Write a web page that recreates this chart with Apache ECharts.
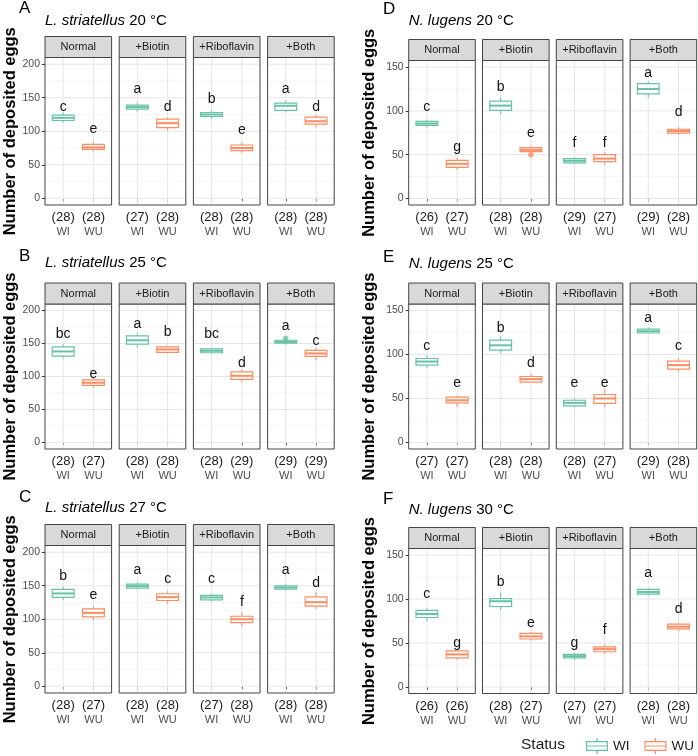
<!DOCTYPE html>
<html><head><meta charset="utf-8">
<script src="https://cdn.jsdelivr.net/npm/echarts@6/dist/echarts.min.js"></script>
<style>html,body{margin:0;padding:0;background:#fff}#c{width:698px;height:756px}</style>
</head><body><div id="c"></div>
<script>
// ---------- data ----------
const facets = ['Normal', '+Biotin', '+Riboflavin', '+Both'];
const statuses = ['WI', 'WU'];
const panelLetters = ['A', 'B', 'C', 'D', 'E', 'F'];
const panelSpecies = ['L. striatellus', 'L. striatellus', 'L. striatellus', 'N. lugens', 'N. lugens', 'N. lugens'];
const panelTemps = ['20 \u00B0C', '25 \u00B0C', '27 \u00B0C', '20 \u00B0C', '25 \u00B0C', '30 \u00B0C'];
const leftTicks = [0, 50, 100, 150, 200];
const leftMinor = [25, 75, 125, 175];
const rightTicks = [0, 50, 100, 150];
const rightMinor = [25, 75, 125];

// boxes: [min, Q1, median, Q3, max] per facet
const A_WI = [[113,116,120,124,128],[130,133,136,139,142],[119,122,125,128,131],[128,131,138,142,146]];
const A_WU = [[70,73,76,80.5,84],[101,105.5,112,118,121],[68,71,75,79.5,83],[105.5,110.5,115,121,124.5]];
const A_n = [[28,28],[27,28],[28,28],[28,28]];
const A_letters = [['c','e'],['a','d'],['b','e'],['a','d']];
const A_letterY = [[136,103.5],[163,136],[148,102],[163,136]];

const B_WI = [[127.5,131,138,145,149],[144,149,155,161.5,165.5],[134,136,139,142,143.5],[148,150.5,152.5,155,155.5]];
const B_WU = [[83.5,86.5,90.5,95,98],[135,136.5,141,145,147],[91.5,95.5,101,107,110.5],[125,130.5,135,139.5,144]];
const B_n = [[28,27],[28,28],[28,29],[29,29]];
const B_letters = [['bc','e'],['a','b'],['bc','d'],['a','c']];
const B_letterY = [[164,104],[180,168],[164,120],[177,153.5]];

const C_WI = [[128.5,132.5,138.5,144.5,148.5],[144.5,146.5,149.5,152.5,154.5],[126.5,129,132.5,135.5,137.5],[143.5,145,147.5,150,152.5]];
const C_WU = [[99,103.5,109.5,115.5,119.5],[122.5,128,133,138,142],[90,95,100,104.5,110.5],[115.5,119.5,125.5,133.5,141]];
const C_n = [[28,27],[28,28],[27,28],[28,28]];
const C_letters = [['b','e'],['a','c'],['c','f'],['a','d']];
const C_letterY = [[164.5,136],[173,159.5],[160,126],[173,153.5]];

const D_WI = [[81,83.5,85.5,88,90],[96,100.5,106,111,115.5],[39.5,40.5,43,45.5,47],[115,119.5,125,131,133.5]];
const D_WU = [[32.5,35.5,39.5,43.5,46.5],[52,53.5,55.5,58,60],[38.5,42,45.5,50,53],[72.5,74.5,77,79,81.5]];
const D_n = [[26,27],[28,28],[29,27],[29,28]];
const D_letters = [['c','g'],['b','e'],['f','f'],['a','d']];
const D_letterY = [[104.5,58],[127,74],[63,63],[142.5,98]];

const E_WI = [[85,88,92,95.5,99],[101.5,105,110.5,116.5,121],[40,41.5,45,48,50],[124,124.5,126.5,129,130.5]];
const E_WU = [[40.5,45,48,51.5,53],[67.5,68.5,72,75,78],[40,44.5,50,54.5,60.5],[80.5,83.5,88,92.5,95.5]];
const E_n = [[27,27],[28,28],[28,27],[29,28]];
const E_letters = [['c','e'],['b','d'],['e','e'],['a','c']];
const E_letterY = [[109,67],[129.5,90],[67,67],[141.5,109]];

const F_WI = [[75,79,83,87,89.5],[87.5,91.5,97.5,100.5,107.5],[30.5,33,35,37,38.5],[104,105.5,108,111,112.5]];
const F_WU = [[31,33,37,41,43.5],[52.5,54.5,57.5,61,62.5],[37.5,40,43,45.5,48.5],[63.5,66,68.5,71.5,73]];
const F_n = [[26,26],[28,27],[27,27],[28,28]];
const F_letters = [['c','g'],['b','e'],['g','f'],['a','d']];
const F_letterY = [[105,49.5],[119,72],[49.5,64.5],[129,88]];

// outliers: [panel, facet index, status, value]
const outliers = [['B', 3, 'WI', 157.5], ['D', 1, 'WU', 50]];

// ---------- assembly ----------
const boxesWI = [A_WI, B_WI, C_WI, D_WI, E_WI, F_WI];
const boxesWU = [A_WU, B_WU, C_WU, D_WU, E_WU, F_WU];
const nAll = [A_n, B_n, C_n, D_n, E_n, F_n];
const lettersAll = [A_letters, B_letters, C_letters, D_letters, E_letters, F_letters];
const letterYAll = [A_letterY, B_letterY, C_letterY, D_letterY, E_letterY, F_letterY];

const FONT = 'Liberation Sans, Arial, Helvetica, sans-serif';
const colors = { WI: '#66c2a5', WU: '#fc8d62' };
const colLeft = [45, 408.7], colStep = [74.2, 73.8], facetW = 66.6, stripH = 21;
const plotTop = [57.5, 304, 545.5, 60.5, 304, 548.5];
const plotBot = [205, 449, 693, 205, 449, 693.5];
const letterTop = [0, 248, 489, 1, 249, 491];
const titleTop = [13, 255, 500, 13, 256, 502];
const letterLeft = [19, 383];
const yRange = [[-10, 210], [-7.5, 157.5]];
const nameGap = [26, 31];

const grids = [], xAxes = [], yAxes = [], series = [], titles = [];

function bgRender(f, ticks, minors) {
  return function (params, api) {
    const cs = params.coordSys;
    const ch = [];
    minors.forEach(v => {
      const y = api.coord([1, v])[1];
      ch.push({ type: 'line', shape: { x1: cs.x, y1: y, x2: cs.x + cs.width, y2: y }, style: { stroke: '#ececec', lineWidth: 0.5 } });
    });
    ticks.forEach(v => {
      const y = api.coord([1, v])[1];
      ch.push({ type: 'line', shape: { x1: cs.x, y1: y, x2: cs.x + cs.width, y2: y }, style: { stroke: '#e6e6e6', lineWidth: 1 } });
    });
    [1, 2].forEach(v => {
      const x = api.coord([v, 0])[0];
      ch.push({ type: 'line', shape: { x1: x, y1: cs.y, x2: x, y2: cs.y + cs.height }, style: { stroke: '#e6e6e6', lineWidth: 1 } });
    });
    ch.push({ type: 'rect', shape: { x: cs.x, y: cs.y, width: cs.width, height: cs.height }, style: { fill: 'none', stroke: '#444', lineWidth: 1 } });
    ch.push({ type: 'rect', shape: { x: cs.x, y: cs.y - stripH, width: cs.width, height: stripH }, style: { fill: '#d9d9d9', stroke: '#444', lineWidth: 1 } });
    ch.push({ type: 'text', x: cs.x + cs.width / 2, y: cs.y - stripH / 2, style: { text: facets[f], fill: '#1a1a1a', fontSize: 11, fontFamily: FONT, align: 'center', verticalAlign: 'middle' } });
    return { type: 'group', children: ch };
  };
}

function boxRender(letter, color) {
  return function (params, api) {
    const x = api.value(0), hw = 0.36;
    const tl = api.coord([x - hw, api.value(4)]);
    const br = api.coord([x + hw, api.value(2)]);
    const cx = api.coord([x, 0])[0];
    const yMin = api.coord([x, api.value(1)])[1];
    const yMax = api.coord([x, api.value(5)])[1];
    const yMed = api.coord([x, api.value(3)])[1];
    const lab = api.coord([x, api.value(6)]);
    return { type: 'group', children: [
      { type: 'line', shape: { x1: cx, y1: yMax, x2: cx, y2: tl[1] }, style: { stroke: color, lineWidth: 1 } },
      { type: 'line', shape: { x1: cx, y1: br[1], x2: cx, y2: yMin }, style: { stroke: color, lineWidth: 1 } },
      { type: 'rect', shape: { x: tl[0], y: tl[1], width: br[0] - tl[0], height: br[1] - tl[1] }, style: { fill: '#ffffff', stroke: color, lineWidth: 1.2 } },
      { type: 'line', shape: { x1: tl[0], y1: yMed, x2: br[0], y2: yMed }, style: { stroke: color, lineWidth: 2 } },
      { type: 'text', x: lab[0], y: lab[1], style: { text: letter, fill: '#111', fontSize: 14, fontFamily: FONT, align: 'center', verticalAlign: 'middle' } }
    ] };
  };
}

for (let p = 0; p < 6; p++) {
  const c = p < 3 ? 0 : 1;
  const ticks = c === 0 ? leftTicks : rightTicks;
  const minors = c === 0 ? leftMinor : rightMinor;
  titles.push({ text: panelLetters[p], left: letterLeft[c], top: letterTop[p], padding: 0,
    textStyle: { fontSize: 17, fontWeight: 'normal', color: '#000', fontFamily: FONT } });
  titles.push({ text: '{i|' + panelSpecies[p] + '} ' + panelTemps[p], left: colLeft[c], top: titleTop[p], padding: 0,
    textStyle: { fontSize: 15, fontWeight: 'normal', color: '#000', fontFamily: FONT,
      rich: { i: { fontStyle: 'italic', fontSize: 15, color: '#000', fontFamily: FONT } } } });
  for (let f = 0; f < 4; f++) {
    const g = p * 4 + f;
    grids.push({ left: colLeft[c] + f * colStep[c], top: plotTop[p], width: facetW, height: plotBot[p] - plotTop[p], show: false });
    const nn = nAll[p][f];
    xAxes.push({ gridIndex: g, type: 'value', min: 0.4, max: 2.6,
      axisLine: { show: false }, splitLine: { show: false },
      axisTick: { show: true, length: 3, customValues: [1, 2], lineStyle: { color: '#333', width: 1 } },
      axisLabel: { show: true, margin: 5, customValues: [1, 2],
        formatter: v => '{n|(' + nn[Math.round(v) - 1] + ')}\n{s|' + statuses[Math.round(v) - 1] + '}',
        rich: { n: { fontSize: 13, color: '#1a1a1a', lineHeight: 15, fontFamily: FONT },
                s: { fontSize: 11, color: '#4d4d4d', lineHeight: 14, fontFamily: FONT } } } });
    const ya = { gridIndex: g, type: 'value', min: yRange[c][0], max: yRange[c][1],
      axisLine: { show: false }, splitLine: { show: false },
      axisTick: { show: f === 0, length: 3, customValues: ticks, lineStyle: { color: '#333', width: 1 } },
      axisLabel: { show: f === 0, margin: 5, customValues: ticks, color: '#4d4d4d', fontSize: 10.5, fontFamily: FONT } };
    if (f === 0) {
      ya.name = 'Number of deposited eggs';
      ya.nameLocation = 'middle';
      ya.nameGap = nameGap[c];
      ya.nameTextStyle = { fontSize: 16.5, fontWeight: 'bold', color: '#000', fontFamily: FONT };
    }
    yAxes.push(ya);
    series.push({ type: 'custom', xAxisIndex: g, yAxisIndex: g, silent: true, z: 1,
      renderItem: bgRender(f, ticks, minors), data: [[1, 0]] });
    statuses.forEach((s, si) => {
      const b = (si === 0 ? boxesWI : boxesWU)[p][f];
      series.push({ type: 'custom', name: s, xAxisIndex: g, yAxisIndex: g, z: 3,
        itemStyle: { color: colors[s] },
        renderItem: boxRender(lettersAll[p][f][si], colors[s]),
        data: [[si + 1, b[0], b[1], b[2], b[3], b[4], letterYAll[p][f][si]]] });
    });
  }
}

outliers.forEach(o => {
  const p = panelLetters.indexOf(o[0]);
  const g = p * 4 + o[1];
  const si = statuses.indexOf(o[2]);
  series.push({ type: 'scatter', name: o[2], xAxisIndex: g, yAxisIndex: g, z: 4, symbol: 'circle', symbolSize: 5.5,
    itemStyle: { color: colors[o[2]] }, data: [[si + 1, o[3]]] });
});

titles.push({ text: 'Status', left: 521, top: 737, padding: 0,
  textStyle: { fontSize: 15.5, fontWeight: 'normal', color: '#1a1a1a', fontFamily: FONT } });

const icon = 'path://M10.4 0h1.2v3h-1.2z M0 3h22v1.2h-22z M0 11.8h22v1.2h-22z M0 3h1.2v10h-1.2z M20.8 3h1.2v10h-1.2z M0 7.4h22v1.2h-22z M10.4 13h1.2v3h-1.2z';

const option = {
  animation: false,
  backgroundColor: '#ffffff',
  title: titles,
  grid: grids,
  xAxis: xAxes,
  yAxis: yAxes,
  legend: { left: 586, top: 738, padding: 0, itemWidth: 22, itemHeight: 16, itemGap: 15,
    textStyle: { fontSize: 13.5, color: '#1a1a1a', fontFamily: FONT },
    data: [{ name: 'WI', icon: icon, itemStyle: { color: colors.WI, borderWidth: 0 } },
           { name: 'WU', icon: icon, itemStyle: { color: colors.WU, borderWidth: 0 } }] },
  series: series
};

const chart = echarts.init(document.getElementById('c'), null, { renderer: 'canvas' });
chart.setOption(option);
</script>
</body></html>
